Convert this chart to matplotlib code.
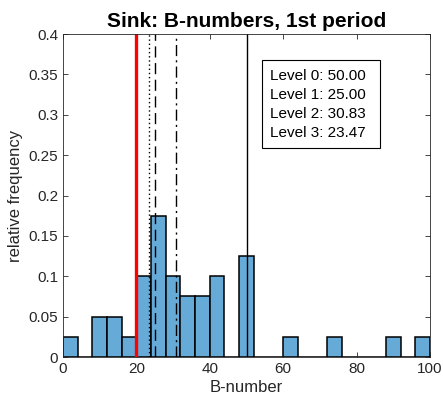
import numpy as np
import matplotlib
matplotlib.use('Agg')
import matplotlib.pyplot as plt
from matplotlib.patches import Rectangle

plt.rcParams['font.family'] = ['Liberation Sans', 'DejaVu Sans']

# histogram of B-numbers, bin width 4
bin_edges = np.arange(0, 101, 4)
rel_freq = [0.025, 0, 0.05, 0.05, 0.025, 0.1, 0.175, 0.1, 0.075, 0.075,
            0.1, 0, 0.125, 0, 0, 0.025, 0, 0, 0.025, 0,
            0, 0, 0.025, 0, 0.025]

threshold = 20
level_names = ['Level 0', 'Level 1', 'Level 2', 'Level 3']
level_values = [50.00, 25.00, 30.83, 23.47]
level_styles = ['-', (0, (8, 4)), (0, (8, 3, 1.5, 3)), (0, (1, 2))]

fig = plt.figure(figsize=(4.43, 4.04), dpi=100)
ax = fig.add_axes([0.1422, 0.1163, 0.8285, 0.7995])

ax.bar(bin_edges[:-1], rel_freq, width=4, align='edge',
       color='#66aad7', edgecolor='black', linewidth=1.1)

ax.axvline(threshold, color='red', linewidth=2.4)
for val, ls in zip(level_values, level_styles):
    ax.axvline(val, color='black', linewidth=1.0, linestyle=ls)

# legend-like text box
ax.add_patch(Rectangle((0.542, 0.647), 0.3215, 0.2724, transform=ax.transAxes,
                       facecolor='white', edgecolor='black', linewidth=0.8, zorder=4))
txt = '\n'.join('{}: {:.2f}'.format(n, v) for n, v in zip(level_names, level_values))
ax.text(0.564, 0.783, txt, transform=ax.transAxes, fontsize=11,
        va='center', ha='left', linespacing=1.45, zorder=5)

ax.set_xlim(0, 100)
ax.set_ylim(0, 0.4)
ax.set_xticks(np.arange(0, 101, 20))
ax.set_yticks(np.arange(0, 0.41, 0.05))
ax.set_yticklabels(['0', '0.05', '0.1', '0.15', '0.2', '0.25', '0.3', '0.35', '0.4'])
ax.tick_params(direction='in', top=True, right=True, labelsize=11,
               length=3.5, width=0.6, color='#262626', labelcolor='#262626')
for s in ax.spines.values():
    s.set_linewidth(0.6)
    s.set_color('#262626')

ax.set_xlabel('B-number', fontsize=12, color='#262626', labelpad=3)
ax.set_ylabel('relative frequency', fontsize=12, color='#262626', labelpad=4)
ax.set_title('Sink: B-numbers, 1st period', fontsize=15, fontweight='bold', pad=5)

fig.savefig('out.png', dpi=100)
